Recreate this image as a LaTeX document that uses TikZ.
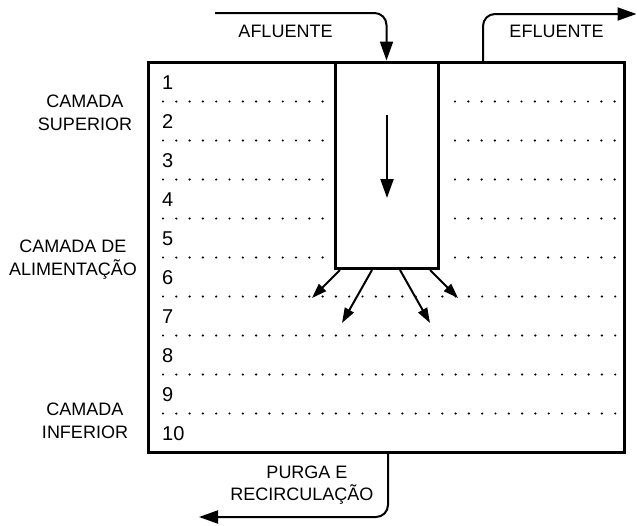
\documentclass[tikz,border=0pt]{standalone}
\usepackage{fontspec}
\setmainfont{Liberation Sans}
\usetikzlibrary{arrows.meta}
\begin{document}
\begin{tikzpicture}[x=1pt,y=-1pt,
  lbl/.style={font=\fontsize{18}{22}\selectfont, inner sep=0pt},
  num/.style={font=\fontsize{20}{24}\selectfont, inner sep=0pt, anchor=base west},
  ctr/.style={lbl, anchor=base},
  dotrow/.style={line width=2.4pt, line cap=round, dash pattern=on 0pt off 13.3pt},
  flow/.style={line width=2pt, rounded corners=12pt, -{Triangle[length=19pt,width=13pt]}},
  spread/.style={line width=2pt, -{Triangle[length=15pt,width=10pt]}},
  wall/.style={draw, line width=3pt, inner sep=0pt}
]
\useasboundingbox (0,0) rectangle (637,525);
% dotted layer boundaries
\foreach \i in {0,...,4}{
  \pgfmathsetmacro{\yy}{101.5+39*\i}
  \draw[dotrow] (163,\yy) -- (324,\yy);
  \draw[dotrow] (455,\yy) -- (616,\yy);
}
\foreach \i in {5,...,8}{
  \pgfmathsetmacro{\yy}{101.5+39*\i}
  \draw[dotrow] (163,\yy) -- (616,\yy);
}
% vessel and feed column
\node[wall, minimum width=476pt, minimum height=390pt] (reactor) at (386,257) {};
\node[wall, minimum width=103pt, minimum height=206pt] (feed) at (386.5,165) {};
% layer numbers
\foreach \n in {1,...,10}{
  \pgfmathsetmacro{\yy}{89+39*(\n-1)}
  \node[num] (n\n) at (162,\yy) {\n};
}
% side labels
\node[ctr] (sup1) at (85,107) {CAMADA};
\node[ctr] (sup2) at (85,130) {SUPERIOR};
\node[ctr] (ali1) at (73,252) {CAMADA DE};
\node[ctr] (ali2) at (73,275) {ALIMENTAÇÃO};
\node[ctr] (inf1) at (85,415) {CAMADA};
\node[ctr] (inf2) at (85,438) {INFERIOR};
% afluente
\node[ctr] (afl) at (285.5,37) {AFLUENTE};
\coordinate (afin) at (215,13);
\draw[flow] (afin) -- (afin -| feed.north) -- (feed.north);
% efluente
\node[ctr] (efl) at (556.5,37) {EFLUENTE};
\coordinate (efbase) at (483,62);
\coordinate (efout) at (636.5,14);
\draw[flow] (efbase) |- (efout);
% purga
\node[ctr] (pur1) at (307,478) {PURGA E};
\node[ctr] (pur2) at (302,500) {RECIRCULAÇÃO};
\coordinate (pgin) at (388,452);
\coordinate (pgout) at (199,517);
\draw[flow] (pgin) |- (pgout);
% internal downflow
\coordinate (dtop) at (387,115);
\coordinate (dbot) at (387,198);
\draw[flow] (dtop) -- (dbot);
% distribution arrows
\coordinate (s1) at (340,270); \coordinate (e1) at (312,298);
\coordinate (s2) at (372,270); \coordinate (e2) at (342,323);
\coordinate (s3) at (400,270); \coordinate (e3) at (430,323);
\coordinate (s4) at (430,270); \coordinate (e4) at (458,298);
\foreach \k in {1,...,4}{ \draw[spread] (s\k) -- (e\k); }
\end{tikzpicture}
\end{document}
